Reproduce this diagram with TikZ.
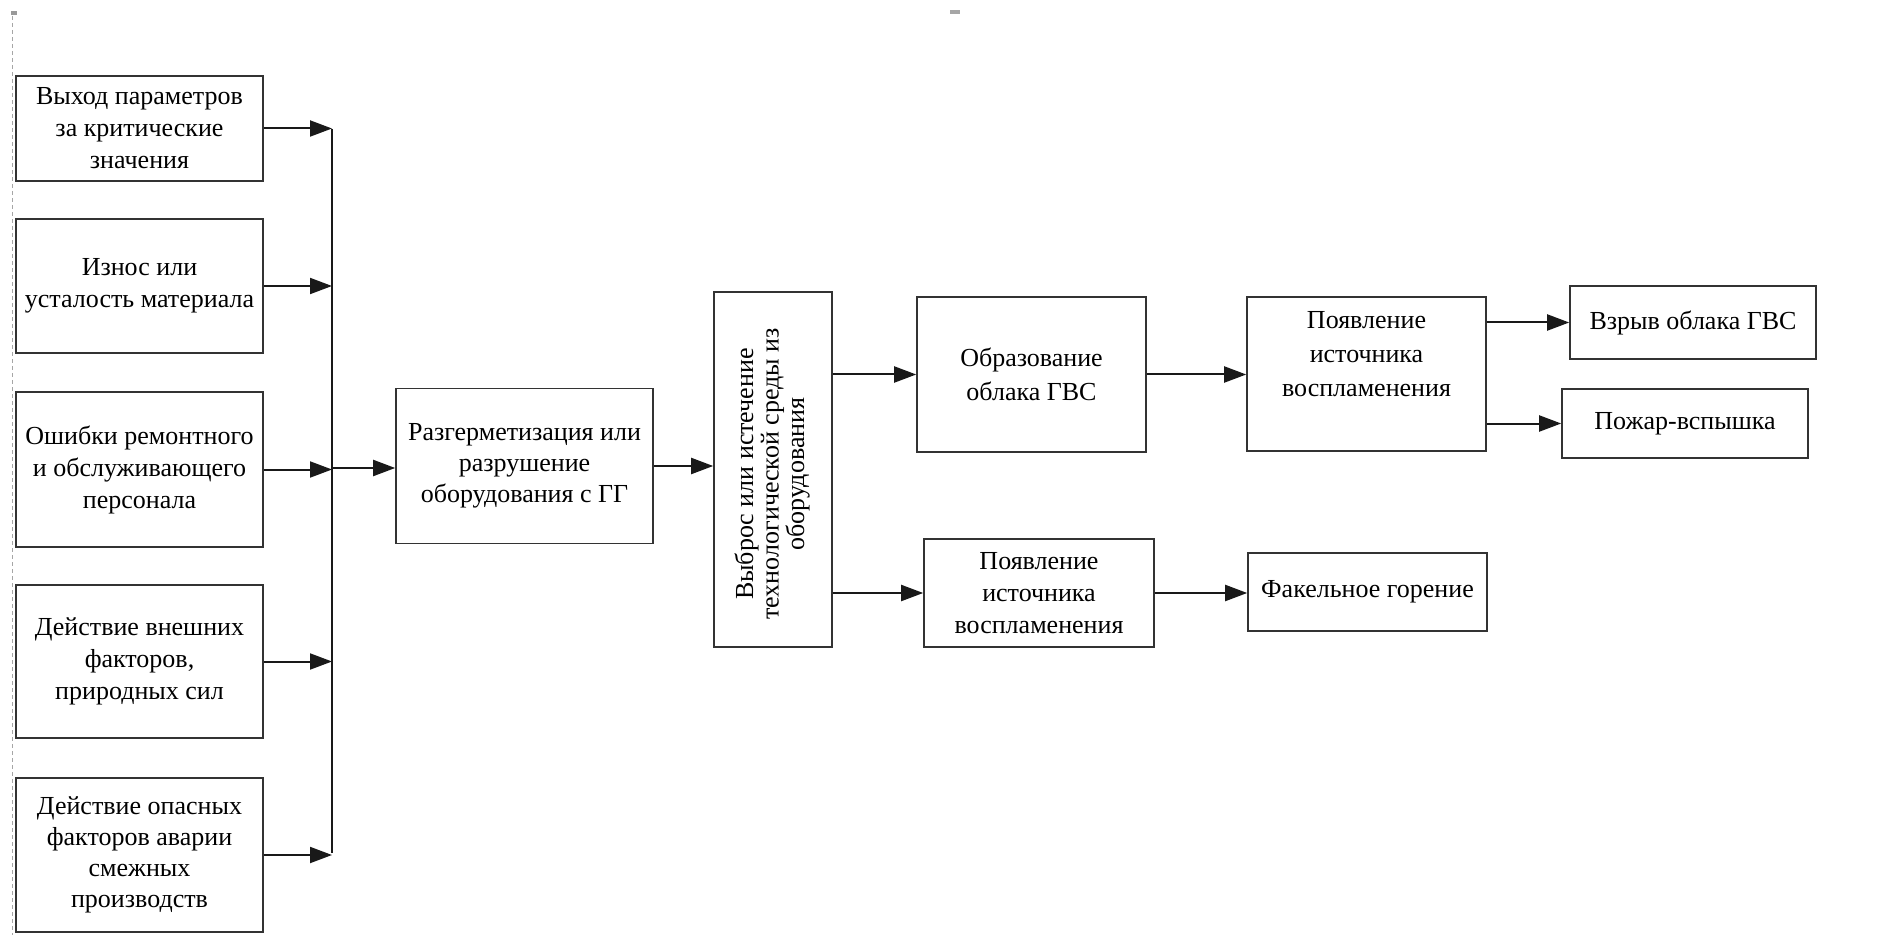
\documentclass[tikz,border=0pt]{standalone}
\usepackage{fontspec}
\setmainfont{Liberation Serif}
\usetikzlibrary{arrows.meta}
\begin{document}
\begin{tikzpicture}[x=0.5pt,y=-0.5pt,
  box/.style={draw=black!80, line width=0.8pt, align=center, inner sep=0pt,
    font=\fontsize{13}{16}\selectfont},
  arr/.style={draw=black!90, line width=1pt, -{Triangle[length=11pt,width=8pt]}},
  ln/.style={draw=black!90, line width=1pt}]
\useasboundingbox (0,0) rectangle (1889,935);
% scan artifacts
\draw[gray!70, line width=0.5pt, dash pattern=on 2pt off 1.5pt] (12,16) -- (12,935);
\fill[gray!80] (11,11) rectangle (17,15);
\fill[gray!70] (950,10) rectangle (960,14);
% left column
\node[box, minimum width=123.5pt, minimum height=52.5pt] (b1) at (139.5,128.5) {Выход параметров\\за критические\\значения};
\node[box, minimum width=123.5pt, minimum height=67pt] (b2) at (139.5,286) {Износ или\\усталость материала};
\node[box, minimum width=123.5pt, minimum height=77.5pt] (b3) at (139.5,469.5) {Ошибки ремонтного\\и обслуживающего\\персонала};
\node[box, minimum width=123.5pt, minimum height=76.5pt] (b4) at (139.5,661.5) {Действие внешних\\факторов,\\природных сил};
\node[box, minimum width=123.5pt, minimum height=77pt, font=\fontsize{13}{15.5}\selectfont] (b5) at (139.5,855) {Действие опасных\\факторов аварии\\смежных\\производств};
% bus
\coordinate (busT) at (332,129);
\coordinate (busB) at (332,853);
\coordinate (busM) at (332,468);
\draw[ln] (busT) -- (busB);
\foreach \b in {b1,b2,b3,b4,b5} \draw[arr] (\b.east) -- (\b.east -| busT);
% middle
\node[box, minimum width=128.5pt, minimum height=77.5pt, font=\fontsize{13}{15.5}\selectfont] (b6) at (524.5,466) {Разгерметизация или\\разрушение\\оборудования с ГГ};
\draw[arr] (busM) -- (busM -| b6.west);
\node[box, minimum width=59pt, minimum height=177.5pt] (b7) at (773,469.5) {};
\node[rotate=90, align=center, inner sep=0pt, font=\fontsize{13}{12.75}\selectfont] (b7t) at (772,474) {Выброс или истечение\\технологической среды из\\оборудования};
\draw[arr] (b6.east) -- (b6.east -| b7.west);
\node[box, minimum width=114.5pt, minimum height=77.5pt, font=\fontsize{13}{17}\selectfont] (b8) at (1031.5,374.5) {Образование\\облака ГВС};
\node[box, minimum width=115pt, minimum height=54pt] (b10) at (1039,593) {Появление\\источника\\воспламенения};
\draw[arr] (b8.west -| b7.east) -- (b8.west);
\draw[arr] (b10.west -| b7.east) -- (b10.west);
% right
\node[box, minimum width=119.5pt, minimum height=77pt, font=\fontsize{13}{17}\selectfont] (b9) at (1366.5,374) {Появление\\источника\\воспламенения\\[3pt]};
\node[box, minimum width=119.5pt, minimum height=39pt] (b13) at (1367.5,592) {Факельное горение};
\draw[arr] (b8.east) -- (b8.east -| b9.west);
\draw[arr] (b10.east) -- (b10.east -| b13.west);
\node[box, minimum width=123pt, minimum height=36.5pt] (b11) at (1693,322.5) {Взрыв облака ГВС};
\node[box, minimum width=123pt, minimum height=34.5pt] (b12) at (1685,423.5) {Пожар-вспышка};
\draw[arr] (b11.west -| b9.east) -- (b11.west);
\draw[arr] (b12.west -| b9.east) -- (b12.west);
\end{tikzpicture}
\end{document}
